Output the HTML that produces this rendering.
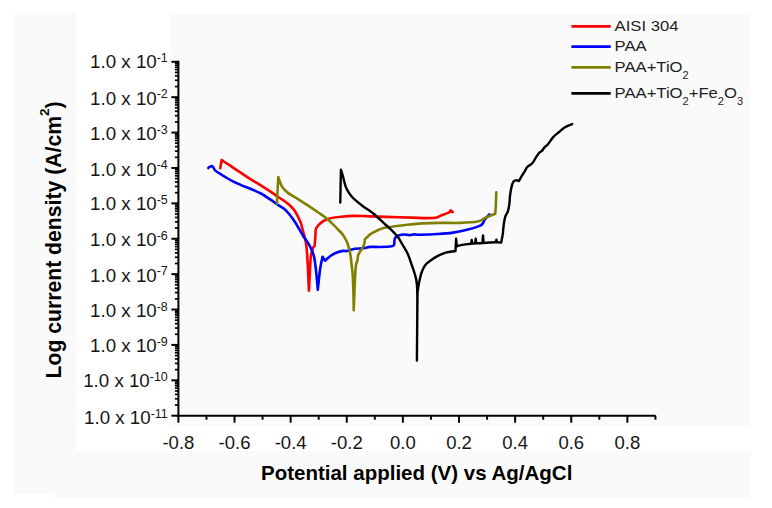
<!DOCTYPE html>
<html><head><meta charset="utf-8"><style>
html,body{margin:0;padding:0;background:#fff;}
svg{display:block;}
</style></head><body>
<svg width="772" height="508" viewBox="0 0 772 508">
<rect x="0" y="0" width="772" height="508" fill="#ffffff"/>
<rect x="14" y="13" width="62" height="481" fill="#fafafa"/>
<rect x="169" y="14" width="582" height="412" fill="#fafafa"/>
<rect x="14" y="451" width="737" height="43" fill="#fafafa"/>
<rect x="54" y="494" width="697" height="4" fill="#fafafa"/>
<g stroke="#000" stroke-width="2" fill="none" stroke-linecap="butt">
<line x1="178.4" y1="60.8" x2="178.4" y2="416.7"/>
<line x1="177.4" y1="415.7" x2="655.72" y2="415.7"/>
<line x1="171.4" y1="61.80" x2="178.4" y2="61.80"/>
<line x1="174.9" y1="86.54" x2="178.4" y2="86.54" stroke-width="1.7"/>
<line x1="174.9" y1="80.30" x2="178.4" y2="80.30" stroke-width="1.7"/>
<line x1="174.9" y1="75.88" x2="178.4" y2="75.88" stroke-width="1.7"/>
<line x1="174.9" y1="72.45" x2="178.4" y2="72.45" stroke-width="1.7"/>
<line x1="174.9" y1="69.65" x2="178.4" y2="69.65" stroke-width="1.7"/>
<line x1="174.9" y1="67.28" x2="178.4" y2="67.28" stroke-width="1.7"/>
<line x1="174.9" y1="65.23" x2="178.4" y2="65.23" stroke-width="1.7"/>
<line x1="174.9" y1="63.42" x2="178.4" y2="63.42" stroke-width="1.7"/>
<line x1="171.4" y1="97.19" x2="178.4" y2="97.19"/>
<line x1="174.9" y1="121.93" x2="178.4" y2="121.93" stroke-width="1.7"/>
<line x1="174.9" y1="115.69" x2="178.4" y2="115.69" stroke-width="1.7"/>
<line x1="174.9" y1="111.27" x2="178.4" y2="111.27" stroke-width="1.7"/>
<line x1="174.9" y1="107.84" x2="178.4" y2="107.84" stroke-width="1.7"/>
<line x1="174.9" y1="105.04" x2="178.4" y2="105.04" stroke-width="1.7"/>
<line x1="174.9" y1="102.67" x2="178.4" y2="102.67" stroke-width="1.7"/>
<line x1="174.9" y1="100.62" x2="178.4" y2="100.62" stroke-width="1.7"/>
<line x1="174.9" y1="98.81" x2="178.4" y2="98.81" stroke-width="1.7"/>
<line x1="171.4" y1="132.58" x2="178.4" y2="132.58"/>
<line x1="174.9" y1="157.32" x2="178.4" y2="157.32" stroke-width="1.7"/>
<line x1="174.9" y1="151.08" x2="178.4" y2="151.08" stroke-width="1.7"/>
<line x1="174.9" y1="146.66" x2="178.4" y2="146.66" stroke-width="1.7"/>
<line x1="174.9" y1="143.23" x2="178.4" y2="143.23" stroke-width="1.7"/>
<line x1="174.9" y1="140.43" x2="178.4" y2="140.43" stroke-width="1.7"/>
<line x1="174.9" y1="138.06" x2="178.4" y2="138.06" stroke-width="1.7"/>
<line x1="174.9" y1="136.01" x2="178.4" y2="136.01" stroke-width="1.7"/>
<line x1="174.9" y1="134.20" x2="178.4" y2="134.20" stroke-width="1.7"/>
<line x1="171.4" y1="167.97" x2="178.4" y2="167.97"/>
<line x1="174.9" y1="192.71" x2="178.4" y2="192.71" stroke-width="1.7"/>
<line x1="174.9" y1="186.47" x2="178.4" y2="186.47" stroke-width="1.7"/>
<line x1="174.9" y1="182.05" x2="178.4" y2="182.05" stroke-width="1.7"/>
<line x1="174.9" y1="178.62" x2="178.4" y2="178.62" stroke-width="1.7"/>
<line x1="174.9" y1="175.82" x2="178.4" y2="175.82" stroke-width="1.7"/>
<line x1="174.9" y1="173.45" x2="178.4" y2="173.45" stroke-width="1.7"/>
<line x1="174.9" y1="171.40" x2="178.4" y2="171.40" stroke-width="1.7"/>
<line x1="174.9" y1="169.59" x2="178.4" y2="169.59" stroke-width="1.7"/>
<line x1="171.4" y1="203.36" x2="178.4" y2="203.36"/>
<line x1="174.9" y1="228.10" x2="178.4" y2="228.10" stroke-width="1.7"/>
<line x1="174.9" y1="221.86" x2="178.4" y2="221.86" stroke-width="1.7"/>
<line x1="174.9" y1="217.44" x2="178.4" y2="217.44" stroke-width="1.7"/>
<line x1="174.9" y1="214.01" x2="178.4" y2="214.01" stroke-width="1.7"/>
<line x1="174.9" y1="211.21" x2="178.4" y2="211.21" stroke-width="1.7"/>
<line x1="174.9" y1="208.84" x2="178.4" y2="208.84" stroke-width="1.7"/>
<line x1="174.9" y1="206.79" x2="178.4" y2="206.79" stroke-width="1.7"/>
<line x1="174.9" y1="204.98" x2="178.4" y2="204.98" stroke-width="1.7"/>
<line x1="171.4" y1="238.75" x2="178.4" y2="238.75"/>
<line x1="174.9" y1="263.49" x2="178.4" y2="263.49" stroke-width="1.7"/>
<line x1="174.9" y1="257.25" x2="178.4" y2="257.25" stroke-width="1.7"/>
<line x1="174.9" y1="252.83" x2="178.4" y2="252.83" stroke-width="1.7"/>
<line x1="174.9" y1="249.40" x2="178.4" y2="249.40" stroke-width="1.7"/>
<line x1="174.9" y1="246.60" x2="178.4" y2="246.60" stroke-width="1.7"/>
<line x1="174.9" y1="244.23" x2="178.4" y2="244.23" stroke-width="1.7"/>
<line x1="174.9" y1="242.18" x2="178.4" y2="242.18" stroke-width="1.7"/>
<line x1="174.9" y1="240.37" x2="178.4" y2="240.37" stroke-width="1.7"/>
<line x1="171.4" y1="274.14" x2="178.4" y2="274.14"/>
<line x1="174.9" y1="298.88" x2="178.4" y2="298.88" stroke-width="1.7"/>
<line x1="174.9" y1="292.64" x2="178.4" y2="292.64" stroke-width="1.7"/>
<line x1="174.9" y1="288.22" x2="178.4" y2="288.22" stroke-width="1.7"/>
<line x1="174.9" y1="284.79" x2="178.4" y2="284.79" stroke-width="1.7"/>
<line x1="174.9" y1="281.99" x2="178.4" y2="281.99" stroke-width="1.7"/>
<line x1="174.9" y1="279.62" x2="178.4" y2="279.62" stroke-width="1.7"/>
<line x1="174.9" y1="277.57" x2="178.4" y2="277.57" stroke-width="1.7"/>
<line x1="174.9" y1="275.76" x2="178.4" y2="275.76" stroke-width="1.7"/>
<line x1="171.4" y1="309.53" x2="178.4" y2="309.53"/>
<line x1="174.9" y1="334.27" x2="178.4" y2="334.27" stroke-width="1.7"/>
<line x1="174.9" y1="328.03" x2="178.4" y2="328.03" stroke-width="1.7"/>
<line x1="174.9" y1="323.61" x2="178.4" y2="323.61" stroke-width="1.7"/>
<line x1="174.9" y1="320.18" x2="178.4" y2="320.18" stroke-width="1.7"/>
<line x1="174.9" y1="317.38" x2="178.4" y2="317.38" stroke-width="1.7"/>
<line x1="174.9" y1="315.01" x2="178.4" y2="315.01" stroke-width="1.7"/>
<line x1="174.9" y1="312.96" x2="178.4" y2="312.96" stroke-width="1.7"/>
<line x1="174.9" y1="311.15" x2="178.4" y2="311.15" stroke-width="1.7"/>
<line x1="171.4" y1="344.92" x2="178.4" y2="344.92"/>
<line x1="174.9" y1="369.66" x2="178.4" y2="369.66" stroke-width="1.7"/>
<line x1="174.9" y1="363.42" x2="178.4" y2="363.42" stroke-width="1.7"/>
<line x1="174.9" y1="359.00" x2="178.4" y2="359.00" stroke-width="1.7"/>
<line x1="174.9" y1="355.57" x2="178.4" y2="355.57" stroke-width="1.7"/>
<line x1="174.9" y1="352.77" x2="178.4" y2="352.77" stroke-width="1.7"/>
<line x1="174.9" y1="350.40" x2="178.4" y2="350.40" stroke-width="1.7"/>
<line x1="174.9" y1="348.35" x2="178.4" y2="348.35" stroke-width="1.7"/>
<line x1="174.9" y1="346.54" x2="178.4" y2="346.54" stroke-width="1.7"/>
<line x1="171.4" y1="380.31" x2="178.4" y2="380.31"/>
<line x1="174.9" y1="405.05" x2="178.4" y2="405.05" stroke-width="1.7"/>
<line x1="174.9" y1="398.81" x2="178.4" y2="398.81" stroke-width="1.7"/>
<line x1="174.9" y1="394.39" x2="178.4" y2="394.39" stroke-width="1.7"/>
<line x1="174.9" y1="390.96" x2="178.4" y2="390.96" stroke-width="1.7"/>
<line x1="174.9" y1="388.16" x2="178.4" y2="388.16" stroke-width="1.7"/>
<line x1="174.9" y1="385.79" x2="178.4" y2="385.79" stroke-width="1.7"/>
<line x1="174.9" y1="383.74" x2="178.4" y2="383.74" stroke-width="1.7"/>
<line x1="174.9" y1="381.93" x2="178.4" y2="381.93" stroke-width="1.7"/>
<line x1="171.4" y1="415.70" x2="178.4" y2="415.70"/>
<line x1="178.40" y1="415.7" x2="178.40" y2="422.7"/>
<line x1="206.46" y1="415.7" x2="206.46" y2="419.7"/>
<line x1="234.52" y1="415.7" x2="234.52" y2="422.7"/>
<line x1="262.58" y1="415.7" x2="262.58" y2="419.7"/>
<line x1="290.64" y1="415.7" x2="290.64" y2="422.7"/>
<line x1="318.70" y1="415.7" x2="318.70" y2="419.7"/>
<line x1="346.76" y1="415.7" x2="346.76" y2="422.7"/>
<line x1="374.82" y1="415.7" x2="374.82" y2="419.7"/>
<line x1="402.88" y1="415.7" x2="402.88" y2="422.7"/>
<line x1="430.94" y1="415.7" x2="430.94" y2="419.7"/>
<line x1="459.00" y1="415.7" x2="459.00" y2="422.7"/>
<line x1="487.06" y1="415.7" x2="487.06" y2="419.7"/>
<line x1="515.12" y1="415.7" x2="515.12" y2="422.7"/>
<line x1="543.18" y1="415.7" x2="543.18" y2="419.7"/>
<line x1="571.24" y1="415.7" x2="571.24" y2="422.7"/>
<line x1="599.30" y1="415.7" x2="599.30" y2="419.7"/>
<line x1="627.36" y1="415.7" x2="627.36" y2="422.7"/>
<line x1="655.42" y1="415.7" x2="655.42" y2="419.7"/>
</g>
<g font-family="Liberation Sans" font-size="18" fill="#151515" text-anchor="end">
<text transform="translate(167.8,68.30) scale(1.04,1)">1.0 x 10<tspan font-size="12" dy="-6.4">-1</tspan></text>
<text transform="translate(167.8,104.60) scale(1.04,1)">1.0 x 10<tspan font-size="12" dy="-6.4">-2</tspan></text>
<text transform="translate(167.8,140.35) scale(1.04,1)">1.0 x 10<tspan font-size="12" dy="-6.4">-3</tspan></text>
<text transform="translate(167.8,175.70) scale(1.04,1)">1.0 x 10<tspan font-size="12" dy="-6.4">-4</tspan></text>
<text transform="translate(167.8,210.05) scale(1.04,1)">1.0 x 10<tspan font-size="12" dy="-6.4">-5</tspan></text>
<text transform="translate(167.8,246.35) scale(1.04,1)">1.0 x 10<tspan font-size="12" dy="-6.4">-6</tspan></text>
<text transform="translate(167.8,281.50) scale(1.04,1)">1.0 x 10<tspan font-size="12" dy="-6.4">-7</tspan></text>
<text transform="translate(167.8,317.20) scale(1.04,1)">1.0 x 10<tspan font-size="12" dy="-6.4">-8</tspan></text>
<text transform="translate(167.8,352.20) scale(1.04,1)">1.0 x 10<tspan font-size="12" dy="-6.4">-9</tspan></text>
<text transform="translate(167.8,387.30) scale(1.04,1)">1.0 x 10<tspan font-size="12" dy="-6.4">-10</tspan></text>
<text transform="translate(167.8,424.20) scale(1.04,1)">1.0 x 10<tspan font-size="12" dy="-6.4">-11</tspan></text>
</g>
<g font-family="Liberation Sans" font-size="18.5" fill="#151515" text-anchor="middle">
<text x="178.40" y="449.3">-0.8</text>
<text x="234.52" y="449.3">-0.6</text>
<text x="290.64" y="449.3">-0.4</text>
<text x="346.76" y="449.3">-0.2</text>
<text x="402.88" y="449.3">0.0</text>
<text x="459.00" y="449.3">0.2</text>
<text x="515.12" y="449.3">0.4</text>
<text x="571.24" y="449.3">0.6</text>
<text x="627.36" y="449.3">0.8</text>
</g>
<text x="261" y="480" font-family="Liberation Sans" font-weight="bold" font-size="20.5" fill="#000">Potential applied (V) vs Ag/AgCl</text>
<text transform="translate(60.7,378.5) rotate(-90)" font-family="Liberation Sans" font-weight="bold" font-size="21.2" fill="#000">Log current density (A/cm<tspan font-size="13.5" dy="-11.3">2</tspan><tspan dy="11.3">)</tspan></text>
<path d="M220.30,168.30L221.60,160.00C221.97,160.25 221.70,160.12 223.80,161.50C225.90,162.88 230.83,166.07 234.20,168.30C237.57,170.53 241.03,172.93 244.00,174.90C246.97,176.87 249.18,178.37 252.00,180.10C254.82,181.83 257.68,183.28 260.90,185.30C264.12,187.32 268.62,190.40 271.30,192.20C273.98,194.00 274.92,194.70 277.00,196.10C279.08,197.50 281.63,199.03 283.80,200.60C285.97,202.17 288.08,203.65 290.00,205.50C291.92,207.35 293.58,209.02 295.30,211.70C297.02,214.38 299.17,218.95 300.30,221.60C301.43,224.25 301.15,223.98 302.10,227.60C303.05,231.22 305.08,237.53 306.00,243.30C306.92,249.07 307.12,254.32 307.60,262.20C308.08,270.08 308.68,285.87 308.90,290.60C309.08,287.18 309.70,275.62 310.00,270.10C310.30,264.58 310.27,261.03 310.70,257.50C311.13,253.97 311.93,250.87 312.60,248.90C313.27,246.93 314.35,246.23 314.70,245.70C314.83,243.82 315.30,237.20 315.50,234.40C315.70,231.60 315.37,230.48 315.90,228.90C316.43,227.32 317.45,226.22 318.70,224.90C319.95,223.58 321.43,222.12 323.40,221.00C325.37,219.88 327.48,218.92 330.50,218.20C333.52,217.48 337.70,217.08 341.50,216.70C345.30,216.32 349.37,216.00 353.30,215.90C357.23,215.80 362.32,216.02 365.10,216.10C367.88,216.18 366.52,216.27 370.00,216.40C373.48,216.53 379.00,216.70 386.00,216.90C393.00,217.10 405.50,217.40 412.00,217.60C418.50,217.80 421.10,218.07 425.00,218.10C428.90,218.13 432.82,218.20 435.40,217.80C437.98,217.40 438.60,216.43 440.50,215.70C442.40,214.97 445.15,214.12 446.80,213.40C448.45,212.68 449.80,211.73 450.40,211.40C450.45,211.23 450.30,210.30 450.70,210.40C451.10,210.50 452.85,211.83 452.80,212.00C452.75,212.17 450.80,211.50 450.40,211.40" fill="none" stroke="#ff0000" stroke-width="2.6" stroke-linejoin="round" stroke-linecap="round"/>
<path d="M208.40,168.00C208.67,167.77 209.43,166.92 210.00,166.60C210.57,166.28 211.50,166.18 211.80,166.10C212.03,166.28 212.60,166.45 213.20,167.20C213.80,167.95 214.07,169.38 215.40,170.60C216.73,171.82 218.60,172.88 221.20,174.50C223.80,176.12 227.75,178.57 231.00,180.30C234.25,182.03 237.47,183.48 240.70,184.90C243.93,186.32 247.03,187.37 250.40,188.80C253.77,190.23 257.42,191.60 260.90,193.50C264.38,195.40 268.70,198.47 271.30,200.20C273.90,201.93 274.42,202.50 276.50,203.90C278.58,205.30 281.63,206.83 283.80,208.60C285.97,210.37 287.58,212.18 289.50,214.50C291.42,216.82 293.07,219.00 295.30,222.50C297.53,226.00 300.58,231.77 302.90,235.50C305.22,239.23 307.37,241.48 309.20,244.90C311.03,248.32 312.72,251.27 313.90,256.00C315.08,260.73 315.65,267.67 316.30,273.30C316.95,278.93 317.55,287.05 317.80,289.80C318.20,286.25 319.40,274.02 320.20,268.50C321.00,262.98 322.20,258.67 322.60,256.70L324.90,260.70C325.68,260.03 327.92,257.95 329.60,256.70C331.28,255.45 332.78,254.17 335.00,253.20C337.22,252.23 340.93,251.27 342.90,250.90C344.87,250.53 344.83,251.35 346.80,251.00C348.77,250.65 352.07,249.25 354.70,248.80C357.33,248.35 359.98,248.62 362.60,248.30C365.22,247.98 367.50,247.12 370.40,246.90C373.30,246.68 376.43,247.10 380.00,247.00C383.57,246.90 389.43,246.72 391.80,246.30C394.17,245.88 393.80,244.80 394.20,244.50C394.30,243.52 394.32,240.03 394.80,238.60C395.28,237.17 396.72,236.35 397.10,235.90C398.18,235.67 401.53,234.63 403.60,234.50C405.67,234.37 407.72,235.12 409.50,235.10C411.28,235.08 412.55,234.47 414.30,234.40C416.05,234.33 416.07,234.77 420.00,234.70C423.93,234.63 432.40,234.35 437.90,234.00C443.40,233.65 448.32,233.27 453.00,232.60C457.68,231.93 461.67,231.08 466.00,230.00C470.33,228.92 476.18,227.18 479.00,226.10C481.82,225.02 482.25,223.93 482.90,223.50C483.22,222.85 483.72,221.12 484.80,219.60C485.88,218.08 488.63,215.27 489.40,214.40" fill="none" stroke="#0000ff" stroke-width="2.6" stroke-linejoin="round" stroke-linecap="round"/>
<path d="M276.90,203.60L278.30,177.00C278.60,177.88 279.35,180.50 280.10,182.30C280.85,184.10 281.55,186.08 282.80,187.80C284.05,189.52 285.50,190.98 287.60,192.60C289.70,194.22 292.83,195.88 295.40,197.50C297.97,199.12 300.57,200.75 303.00,202.30C305.43,203.85 307.52,205.13 310.00,206.80C312.48,208.47 315.28,210.47 317.90,212.30C320.52,214.13 323.08,215.70 325.70,217.80C328.32,219.90 331.47,222.87 333.60,224.90C335.73,226.93 336.95,228.37 338.50,230.00C340.05,231.63 341.52,232.73 342.90,234.70C344.28,236.67 345.75,239.43 346.80,241.80C347.85,244.17 348.55,246.40 349.20,248.90C349.85,251.40 350.30,254.12 350.70,256.80C351.10,259.48 351.27,261.97 351.60,265.00C351.93,268.03 352.38,270.00 352.70,275.00C353.02,280.00 353.33,289.12 353.50,295.00C353.67,300.88 353.67,307.75 353.70,310.30C353.83,306.92 354.25,295.88 354.50,290.00C354.75,284.12 354.95,279.17 355.20,275.00C355.45,270.83 355.63,267.38 356.00,265.00C356.37,262.62 357.03,262.33 357.40,260.70C357.77,259.07 357.73,256.77 358.20,255.20C358.67,253.63 359.40,252.62 360.20,251.30C361.00,249.98 362.28,248.75 363.00,247.30C363.72,245.85 364.18,243.92 364.50,242.60C364.82,241.28 364.83,239.93 364.90,239.40C365.43,238.88 366.92,237.35 368.10,236.30C369.28,235.25 369.45,234.47 372.00,233.10C374.55,231.73 380.10,229.15 383.40,228.10C386.70,227.05 388.43,227.27 391.80,226.80C395.17,226.33 399.17,225.83 403.60,225.30C408.03,224.77 412.68,224.00 418.40,223.60C424.12,223.20 431.05,223.02 437.90,222.90C444.75,222.78 452.87,223.12 459.50,222.90C466.13,222.68 473.37,222.47 477.70,221.60C482.03,220.73 482.58,219.00 485.50,217.70C488.42,216.40 493.58,214.45 495.20,213.80C495.30,212.50 495.62,209.58 495.80,206.00C495.98,202.42 496.22,194.58 496.30,192.30" fill="none" stroke="#808000" stroke-width="2.6" stroke-linejoin="round" stroke-linecap="round"/>
<path d="M340.30,202.60L340.90,169.80C341.23,170.83 342.03,173.02 342.90,176.00C343.77,178.98 344.60,184.23 346.10,187.70C347.60,191.17 349.20,193.78 351.90,196.80C354.60,199.82 358.78,203.07 362.30,205.80C365.82,208.53 369.07,210.00 373.00,213.20C376.93,216.40 382.77,222.15 385.90,225.00C389.03,227.85 389.83,228.33 391.80,230.30C393.77,232.27 395.93,234.43 397.70,236.80C399.47,239.17 400.72,241.65 402.40,244.50C404.08,247.35 406.33,250.75 407.80,253.90C409.27,257.05 409.98,259.88 411.20,263.40C412.42,266.92 414.13,271.32 415.10,275.00C416.07,278.68 416.63,280.33 417.00,285.50C417.37,290.67 417.32,293.48 417.30,306.00C417.28,318.52 416.97,351.50 416.90,360.60C416.98,351.33 417.28,316.43 417.40,305.00C417.52,293.57 417.57,294.17 417.60,292.00C417.83,290.48 418.33,286.15 419.00,282.90C419.67,279.65 420.52,275.53 421.60,272.50C422.68,269.47 423.77,266.87 425.50,264.70C427.23,262.53 429.85,261.02 432.00,259.50C434.15,257.98 436.23,256.72 438.40,255.60C440.57,254.48 443.03,253.43 445.00,252.80C446.97,252.17 448.45,252.08 450.20,251.80C451.95,251.52 454.62,251.22 455.50,251.10L456.10,238.80L456.80,246.30C457.33,246.15 458.80,245.68 460.00,245.40C461.20,245.12 462.55,244.83 464.00,244.60C465.45,244.37 467.52,244.15 468.70,244.00C469.88,243.85 470.70,243.75 471.10,243.70L471.70,240.00L472.30,243.60L475.10,243.50L475.70,238.80L476.40,243.40C476.83,243.38 478.00,243.35 479.00,243.30C480.00,243.25 481.83,243.13 482.40,243.10L483.00,235.50L483.70,243.00C484.60,242.92 487.08,242.63 489.10,242.50C491.12,242.37 494.68,242.25 495.80,242.20L496.40,239.60L497.10,242.30C497.62,242.33 499.52,242.47 500.20,242.50C500.88,242.53 501.03,242.50 501.20,242.50C501.45,241.20 502.28,237.62 502.70,234.70C503.12,231.78 503.28,227.98 503.70,225.00C504.12,222.02 504.50,219.08 505.20,216.80C505.90,214.52 507.22,213.37 507.90,211.30C508.58,209.23 508.95,206.92 509.30,204.40C509.65,201.88 509.67,198.95 510.00,196.20C510.33,193.45 510.73,190.32 511.30,187.90C511.87,185.48 512.58,182.97 513.40,181.70C514.22,180.43 515.28,180.42 516.20,180.30C517.12,180.18 518.45,180.88 518.90,181.00C519.37,180.20 520.67,177.92 521.70,176.20C522.73,174.48 524.17,172.23 525.10,170.70C526.03,169.17 526.07,168.28 527.30,167.00C528.53,165.72 530.98,164.73 532.50,163.00C534.02,161.27 535.25,158.33 536.40,156.60C537.55,154.87 538.48,153.55 539.40,152.60C540.32,151.65 541.00,151.83 541.90,150.90C542.80,149.97 543.78,148.12 544.80,147.00C545.82,145.88 546.60,145.85 548.00,144.20C549.40,142.55 551.47,139.05 553.20,137.10C554.93,135.15 556.43,134.13 558.40,132.50C560.37,130.87 562.72,128.70 565.00,127.30C567.28,125.90 570.92,124.63 572.10,124.10" fill="none" stroke="#000000" stroke-width="2.4" stroke-linejoin="round" stroke-linecap="round"/>
<line x1="571.4" y1="26.4" x2="610.7" y2="26.4" stroke="#ff0000" stroke-width="2.8"/>
<text transform="translate(614.6,30.799999999999997) scale(1.11,1)" font-family="Liberation Sans" font-size="15" fill="#1e1e1e">AISI 304</text>
<line x1="571.4" y1="46.6" x2="610.7" y2="46.6" stroke="#0000ff" stroke-width="2.8"/>
<text transform="translate(614.6,51.0) scale(1.11,1)" font-family="Liberation Sans" font-size="15" fill="#1e1e1e">PAA</text>
<line x1="571.4" y1="67.3" x2="610.7" y2="67.3" stroke="#808000" stroke-width="2.8"/>
<text transform="translate(614.6,71.7) scale(1.11,1)" font-family="Liberation Sans" font-size="15" fill="#1e1e1e">PAA+TiO<tspan font-size="10" dy="7.1">2</tspan></text>
<line x1="571.4" y1="93.3" x2="610.7" y2="93.3" stroke="#000000" stroke-width="2.8"/>
<text transform="translate(614.6,97.7) scale(1.11,1)" font-family="Liberation Sans" font-size="15" fill="#1e1e1e">PAA+TiO<tspan font-size="10" dy="7.1">2</tspan><tspan dy="-7.1">+Fe</tspan><tspan font-size="10" dy="7.1">2</tspan><tspan dy="-7.1">O</tspan><tspan font-size="10" dy="7.1">3</tspan></text>
</svg>
</body></html>
